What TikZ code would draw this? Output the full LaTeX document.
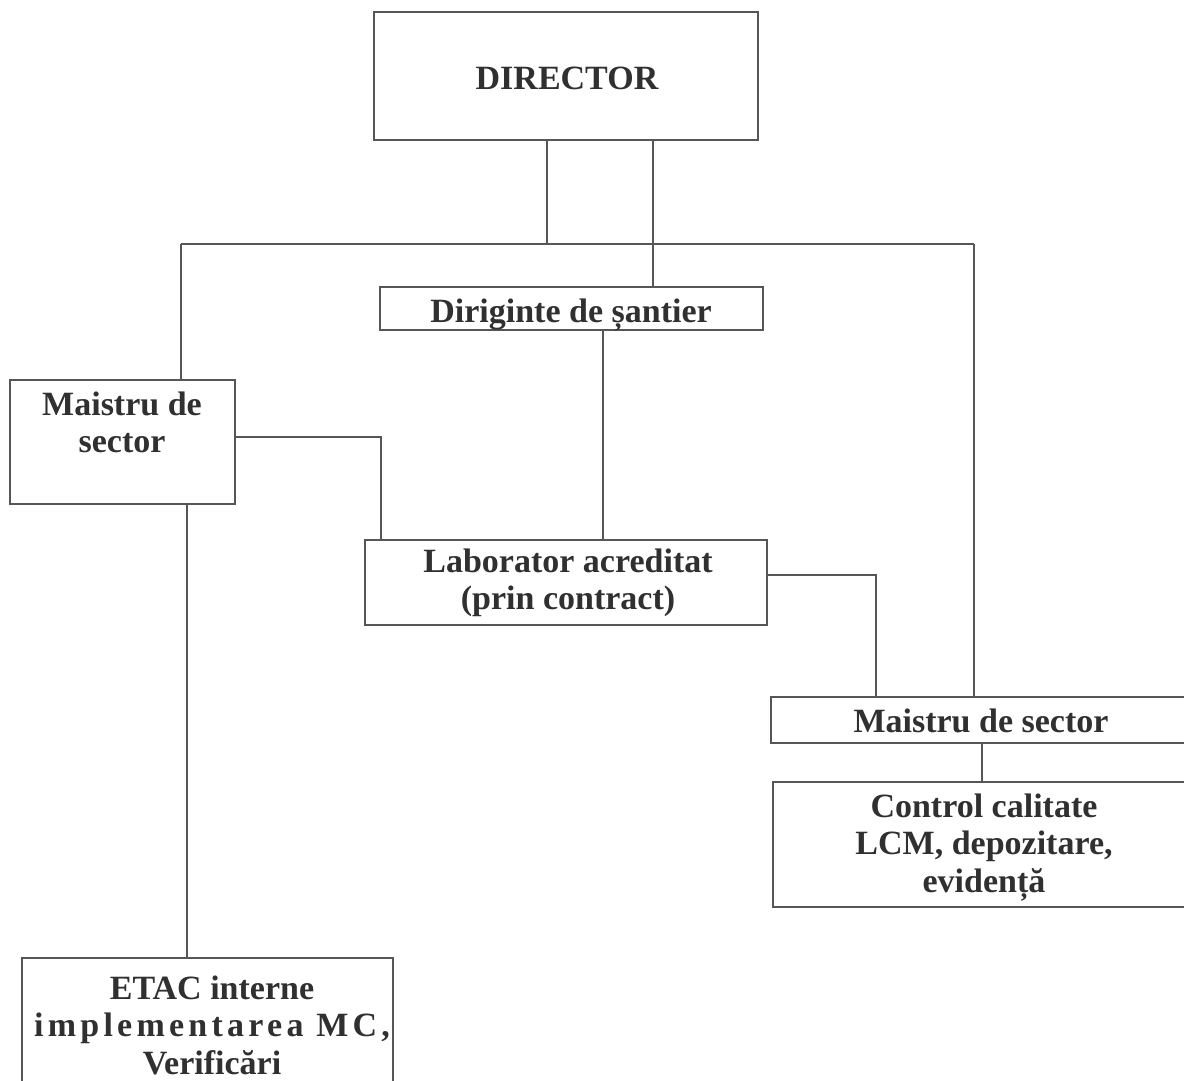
\documentclass[tikz,border=0pt]{standalone}
\usepackage{fontspec}
\setmainfont{Liberation Serif}
\definecolor{linec}{RGB}{85,85,90}
\definecolor{textc}{RGB}{48,48,48}
\begin{document}
\begin{tikzpicture}[x=1pt,y=-1pt,
  box/.style={draw=linec, line width=1.2pt, inner sep=0pt, outer sep=0pt},
  lbl/.style={anchor=base, inner sep=0pt, outer sep=0pt, text=textc,
              font=\fontsize{34}{37.5}\selectfont\bfseries},
  conn/.style={draw=linec, line width=1.2pt}]
\useasboundingbox (0,0) rectangle (1184,1081);
\fill[white] (0,0) rectangle (1184,1081);
\clip (0,0) rectangle (1184,1081);
\setlength{\tabcolsep}{0pt}

% boxes
\node[box, minimum width=384pt, minimum height=128pt] (dir)   at (566,76) {};
\node[box, minimum width=383pt, minimum height=43pt]  (dirig) at (571.5,308.5) {};
\node[box, minimum width=225pt, minimum height=124pt] (mL)    at (122.5,442) {};
\node[box, minimum width=402pt, minimum height=85pt]  (lab)   at (566,582.5) {};
\node[box, minimum width=421pt, minimum height=46pt]  (mR)    at (981.5,720) {};
\node[box, minimum width=419pt, minimum height=125pt] (ctl)   at (982.5,844.5) {};
\node[box, minimum width=371pt, minimum height=138pt] (etac)  at (207.5,1027) {};

% texts
\node[lbl] (dirt)   at (567,89)  {DIRECTOR};
\node[lbl] (dirigt) at (571,322) {Diriginte de șantier};
\node[lbl] (mLt)    at (122,415) {\begin{tabular}[t]{@{}c@{}}Maistru de\\sector\end{tabular}};
\node[lbl] (labt)   at (568,572) {\begin{tabular}[t]{@{}c@{}}Laborator acreditat\\(prin contract)\end{tabular}};
\node[lbl] (mRt)    at (981,732) {Maistru de sector};
\node[lbl] (ctlt)   at (984,817) {\begin{tabular}[t]{@{}c@{}}Control calitate\\LCM, depozitare,\\evidență\end{tabular}};
\node[lbl] (etact)  at (212,999) {\begin{tabular}[t]{@{}c@{}}ETAC interne\\{\addfontfeatures{LetterSpace=12.5}implementarea MC,}\\Verificări\end{tabular}};

% helper coordinates
\coordinate (jA) at (547,244);
\coordinate (hL) at (181,244);
\coordinate (hR) at (974,244);
\coordinate (xB) at (653,0);
\coordinate (xC) at (603,0);
\coordinate (yD) at (0,437);
\coordinate (xE) at (381,0);
\coordinate (yF) at (0,575);
\coordinate (xG) at (876,0);
\coordinate (xH) at (982,0);
\coordinate (xI) at (187,0);

% connectors
\draw[conn] (dir.south -| jA) -- (jA);
\draw[conn] (dir.south -| xB) -- (dirig.north -| xB);
\draw[conn] (hL) -- (hR);
\draw[conn] (hL) -- (mL.north -| hL);
\draw[conn] (hR) -- (mR.north -| hR);
\draw[conn] (dirig.south -| xC) -- (lab.north -| xC);
\draw[conn] (mL.east |- yD) -| (lab.north -| xE);
\draw[conn] (lab.east |- yF) -| (mR.north -| xG);
\draw[conn] (mR.south -| xH) -- (ctl.north -| xH);
\draw[conn] (mL.south -| xI) -- (etac.north -| xI);
\end{tikzpicture}
\end{document}
